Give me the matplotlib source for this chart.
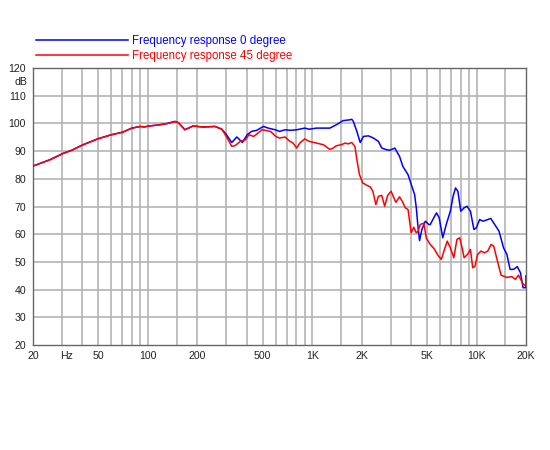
import matplotlib
matplotlib.use("Agg")
import matplotlib.pyplot as plt
from matplotlib.ticker import FixedLocator, NullLocator

plt.rcParams['font.family'] = ['Liberation Sans', 'DejaVu Sans']

# ---- data ----
freq_45 = [20, 25.4, 30.6, 34.4, 40, 50, 60, 70, 80, 90, 95, 100, 118, 130, 146, 153, 168, 189, 200,
           217, 256, 282, 300, 324, 340, 365, 393, 412, 440, 472, 495, 520, 558, 600, 634, 683, 733,
           765, 805, 840, 900, 960, 1060, 1170, 1280, 1340, 1400, 1500, 1590, 1650, 1740, 1820, 1870,
           1940, 2030, 2160, 2250, 2340, 2440, 2530, 2650, 2760, 2880, 3020, 3120, 3230, 3400, 3530,
           3690, 3830, 4000, 4150, 4300, 4400, 4550, 4780, 4950, 5230, 5560, 5820, 6100, 6380, 6630,
           6930, 7270, 7600, 7900, 8170, 8400, 8810, 9180, 9480, 9800, 10150, 10650, 11160, 11700,
           12270, 12720, 13330, 14100, 15300, 16400, 17200, 18000, 19200, 19900, 20000]
spl_45 = [84.6, 86.9, 89.2, 90.3, 92.2, 94.5, 95.9, 96.8, 98.3, 98.9, 98.7, 99.0, 99.5, 99.9, 100.7, 100.3,
          97.7, 99.1, 98.9, 98.7, 98.9, 97.9, 95.3, 91.7, 92.0, 93.5, 94.1, 95.9, 95.3, 96.7, 97.7, 97.5,
          97.1, 95.3, 94.7, 95.1, 93.5, 92.9, 91.1, 92.9, 94.4, 93.5, 92.9, 92.3, 90.6, 91.1, 91.9, 92.3,
          92.9, 92.6, 93.1, 91.7, 86.9, 81.5, 78.5, 77.6, 77.1, 75.5, 70.7, 73.7, 74.0, 70.1, 74.0, 75.5,
          73.5, 71.5, 73.5, 71.9, 69.5, 68.9, 60.5, 62.5, 60.5, 61.0, 63.5, 64.0, 58.5, 56.3, 54.5, 52.4,
          50.9, 54.5, 57.5, 55.1, 51.5, 58.1, 58.7, 55.1, 51.5, 52.7, 54.5, 47.9, 48.5, 52.7, 53.9, 53.3,
          53.9, 56.3, 55.7, 50.9, 45.2, 44.4, 44.7, 43.7, 45.2, 42.0, 41.4, 44.0]

freq_0 = [20, 25.4, 30.6, 34.4, 40, 50, 60, 70, 80, 90, 95, 100, 118, 130, 146, 153, 168, 189, 200,
          217, 256, 282, 300, 324, 348, 376, 402, 427, 460, 505, 540, 595, 634, 683, 733, 805, 900, 960,
          1060, 1170, 1280, 1340, 1400, 1440, 1540, 1700, 1740, 1780, 1870, 1960, 2050, 2200, 2360, 2530,
          2650, 2830, 2970, 3180, 3400, 3560, 3830, 4010, 4200, 4300, 4390, 4500, 4650, 4880, 5120, 5230,
          5490, 5710, 5930, 6230, 6540, 6930, 7200, 7450, 7700, 8020, 8400, 8750, 9180, 9640, 9970,
          10450, 10950, 11480, 12200, 12900, 13700, 14600, 15300, 16000, 16800, 17700, 18500, 19200,
          19900, 20000]
spl_0 = [84.6, 86.9, 89.2, 90.3, 92.2, 94.5, 95.9, 96.8, 98.3, 98.9, 98.7, 99.0, 99.5, 99.9, 100.7, 100.3,
         97.7, 99.1, 98.9, 98.7, 98.9, 97.9, 96.0, 93.1, 95.1, 93.1, 95.9, 97.1, 97.5, 98.9, 98.3, 97.7,
         97.1, 97.7, 97.5, 97.7, 98.3, 97.9, 98.3, 98.3, 98.3, 98.9, 99.5, 99.9, 101.0, 101.3, 101.5,
         100.7, 97.1, 93.1, 95.3, 95.5, 94.7, 93.5, 91.1, 90.5, 90.3, 91.1, 88.1, 84.5, 81.5, 77.9, 74.3,
         69.5, 63.5, 57.7, 61.7, 64.7, 63.5, 63.5, 65.9, 67.7, 65.9, 58.7, 63.5, 68.3, 73.7, 76.7, 75.5,
         68.3, 69.5, 70.1, 68.3, 61.7, 62.3, 65.3, 64.7, 65.1, 65.7, 63.5, 61.1, 55.1, 52.7, 47.3, 47.3,
         48.3, 46.1, 40.7, 40.7, 45.0]

labels = ["Frequency response 0 degree", "Frequency response 45 degree"]
x_tick_pos = [20, 32, 50, 100, 200, 500, 1000, 2000, 5000, 10000, 20000]
x_tick_labels = ["20", "Hz", "50", "100", "200", "500", "1K", "2K", "5K", "10K", "20K"]
y_ticks = [20, 30, 40, 50, 60, 70, 80, 90, 100, 110, 120]
grid_freqs = [30, 40, 50, 60, 70, 80, 90, 100, 150, 200, 300, 400, 500, 600, 700, 800, 900, 1000,
              1500, 2000, 3000, 4000, 5000, 6000, 7000, 8000, 9000, 10000, 15000]

# ---- figure ----
fig = plt.figure(figsize=(5.5, 4.5), dpi=100)
ax = fig.add_axes([33/550, 1-345/450, (526-33)/550, (345-68)/450])
ax.set_xscale('log')
ax.set_xlim(20, 20000)
ax.set_ylim(20, 120)

gcol = '#b4b4b4'
for f in grid_freqs:
    ax.axvline(f, color=gcol, lw=1.2, zorder=1)
for y in y_ticks[1:-1]:
    ax.axhline(y, color=gcol, lw=1.2, zorder=1)

l0, = ax.plot(freq_0, spl_0, color='#0000ff', lw=1.1, zorder=3, label=labels[0])
l1, = ax.plot(freq_45, spl_45, color='#ff0000', lw=1.1, zorder=4, label=labels[1])

ax.xaxis.set_major_locator(FixedLocator(x_tick_pos))
ax.set_xticklabels(x_tick_labels)
ax.xaxis.set_minor_locator(NullLocator())
ax.set_yticks(y_ticks)
ax.tick_params(axis='both', length=0, labelsize=7.6, colors='#222222')
ax.tick_params(axis='x', pad=4)
ax.tick_params(axis='y', pad=5)
ax.text(-0.012, 115, "dB", transform=ax.get_yaxis_transform(), ha='right', va='center',
        fontsize=7.6, color='#222222')

for s in ax.spines.values():
    s.set_color('#666666')
    s.set_linewidth(1.0)

leg = fig.legend(handles=[l0, l1], loc='upper left', bbox_to_anchor=(36/550, 1-35/450),
                 frameon=False, fontsize=8.3, handlelength=8.0, handletextpad=0.3,
                 labelspacing=0.3, labelcolor='linecolor', borderpad=0, borderaxespad=0)

fig.savefig("out.png", dpi=100)
